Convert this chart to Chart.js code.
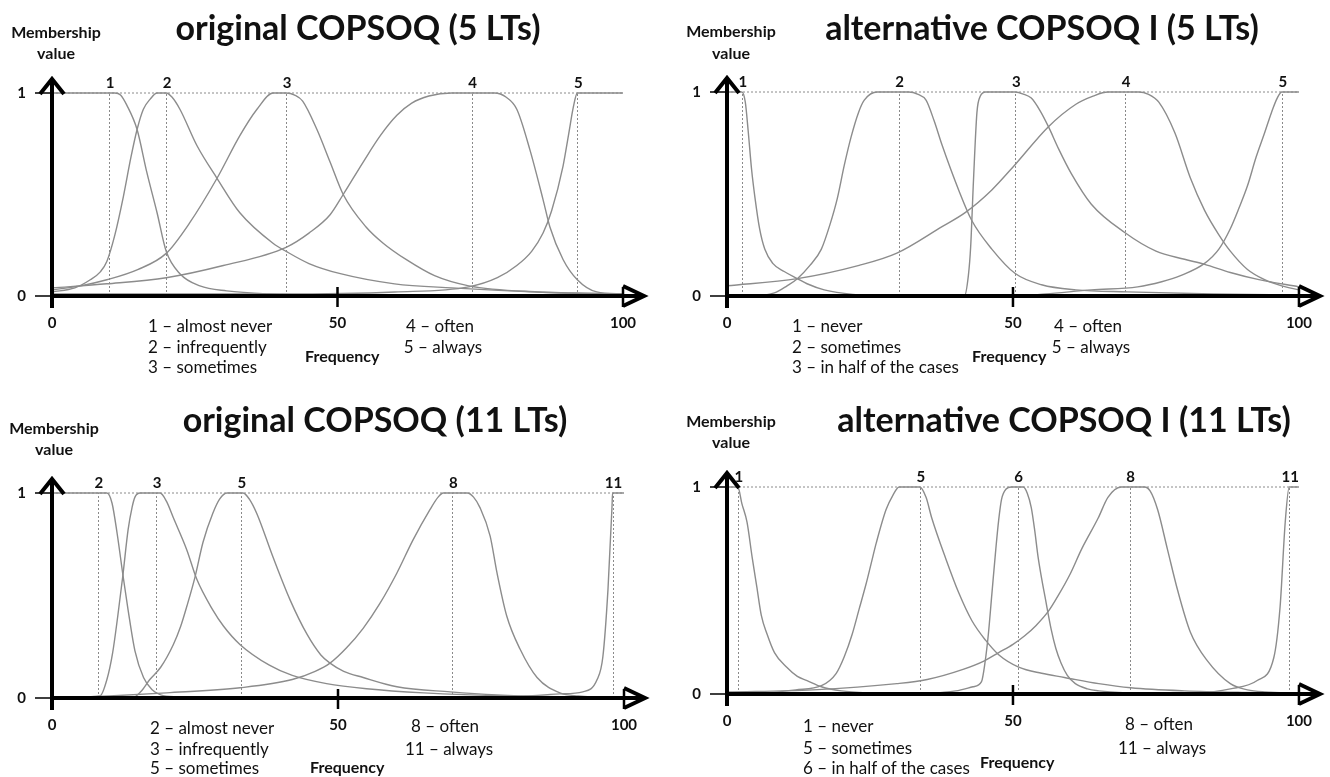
<!DOCTYPE html>
<html>
<head>
<meta charset="utf-8">
<script src="https://cdn.jsdelivr.net/npm/chart.js@4.4.1/dist/chart.umd.min.js"></script>
<style>
  body { margin: 0; background: #fff; font-family: Lato, "Open Sans", sans-serif; color: #111; }
  #page { position: relative; width: 1330px; height: 777px; overflow: hidden; }
  canvas { position: absolute; }
  .t { position: absolute; white-space: nowrap; line-height: 1; transform: translate(-50%, -50%); }
  .l { position: absolute; white-space: nowrap; line-height: 1; transform: translate(0, -50%); }
  .titulo { font-size: 34px; font-weight: 700; }
  .eixo { font-size: 16px; font-weight: 700; }
  .leg { font-size: 17px; }
</style>
</head>
<body>
<div id="page">
  <canvas id="graficoOrig5" width="665" height="388" style="left:0;top:0"></canvas>
  <canvas id="graficoAlt5" width="665" height="388" style="left:665px;top:0"></canvas>
  <canvas id="graficoOrig11" width="665" height="388" style="left:0;top:388px"></canvas>
  <canvas id="graficoAlt11" width="665" height="388" style="left:665px;top:388px"></canvas>

  <!-- original COPSOQ (5 LTs) -->
  <div class="t titulo" style="left:358px;top:27px">original COPSOQ (5 LTs)</div>
  <div class="t eixo" style="left:56px;top:32px">Membership</div>
  <div class="t eixo" style="left:56px;top:53px">value</div>
  <div class="l leg" style="left:148px;top:325px">1 – almost never</div>
  <div class="l leg" style="left:148px;top:346px">2 – infrequently</div>
  <div class="l leg" style="left:148px;top:366px">3 – sometimes</div>
  <div class="l eixo" style="left:305px;top:356px">Frequency</div>
  <div class="t leg" style="left:440px;top:325px">4 – often</div>
  <div class="t leg" style="left:443px;top:346px">5 – always</div>

  <!-- alternative COPSOQ I (5 LTs) -->
  <div class="t titulo" style="left:1042px;top:27px">alternative COPSOQ I (5 LTs)</div>
  <div class="t eixo" style="left:731px;top:31px">Membership</div>
  <div class="t eixo" style="left:731px;top:53px">value</div>
  <div class="l leg" style="left:792px;top:325px">1 – never</div>
  <div class="l leg" style="left:792px;top:346px">2 – sometimes</div>
  <div class="l leg" style="left:792px;top:366px">3 – in half of the cases</div>
  <div class="l eixo" style="left:972px;top:356px">Frequency</div>
  <div class="t leg" style="left:1088px;top:325px">4 – often</div>
  <div class="t leg" style="left:1091px;top:346px">5 – always</div>

  <!-- original COPSOQ (11 LTs) -->
  <div class="t titulo" style="left:375px;top:419px">original COPSOQ (11 LTs)</div>
  <div class="t eixo" style="left:54px;top:428px">Membership</div>
  <div class="t eixo" style="left:54px;top:449px">value</div>
  <div class="l leg" style="left:150px;top:727px">2 – almost never</div>
  <div class="l leg" style="left:150px;top:748px">3 – infrequently</div>
  <div class="l leg" style="left:150px;top:767px">5 – sometimes</div>
  <div class="l eixo" style="left:310px;top:767px">Frequency</div>
  <div class="t leg" style="left:445px;top:725px">8 – often</div>
  <div class="t leg" style="left:449px;top:748px">11 – always</div>

  <!-- alternative COPSOQ I (11 LTs) -->
  <div class="t titulo" style="left:1064px;top:419px">alternative COPSOQ I (11 LTs)</div>
  <div class="t eixo" style="left:731px;top:421px">Membership</div>
  <div class="t eixo" style="left:731px;top:442px">value</div>
  <div class="l leg" style="left:803px;top:725px">1 – never</div>
  <div class="l leg" style="left:803px;top:747px">5 – sometimes</div>
  <div class="l leg" style="left:803px;top:767px">6 – in half of the cases</div>
  <div class="l eixo" style="left:980px;top:762px">Frequency</div>
  <div class="t leg" style="left:1159px;top:723px">8 – often</div>
  <div class="t leg" style="left:1162px;top:747px">11 – always</div>
</div>

<script>
// ---- dados: [frequência, pertinência]
const freqTicks = [0, 50, 100];
const memberTicks = [0, 1];

// original COPSOQ (5 LTs)
const orig5Peaks = [10, 20, 41, 73.5, 92];
const orig5PeakLabels = ['1', '2', '3', '4', '5'];
const orig5Lt1 = [[0,1],[11,1],[12,0.99],[13.1,0.94],[14.9,0.82],[16.6,0.61],[18.4,0.41],[20,0.22],[22.4,0.11],[25.9,0.05],[30.6,0.025],[38,0.01],[50,0.004],[100,0]];
const orig5Lt2 = [[0,0.02],[4,0.04],[6.7,0.08],[8.5,0.12],[9.6,0.17],[11,0.3],[12.5,0.49],[13.8,0.68],[14.9,0.82],[16,0.92],[17.2,0.97],[18.4,1],[20,1],[21,0.98],[22.4,0.92],[25.4,0.74],[28.9,0.58],[32.9,0.41],[38.7,0.26],[41,0.22],[45,0.16],[50.5,0.11],[60,0.06],[70,0.04],[85,0.02],[100,0.01]];
const orig5Lt3 = [[0,0.03],[5,0.05],[9.6,0.08],[15,0.13],[20,0.21],[24.1,0.36],[28.9,0.58],[32.9,0.79],[35.9,0.92],[38.7,1],[41,1],[42.5,0.99],[43.9,0.96],[46.4,0.82],[48.7,0.66],[51,0.5],[55,0.34],[58,0.26],[62,0.18],[67,0.1],[73,0.05],[85,0.02],[100,0.01]];
const orig5Lt4 = [[0,0.04],[9.6,0.06],[20,0.09],[30,0.15],[41,0.24],[45,0.31],[48.7,0.4],[51,0.5],[54.5,0.66],[57.5,0.79],[60.4,0.89],[63,0.95],[66,0.985],[70,1],[77.5,1],[79.5,0.98],[81.4,0.92],[83.7,0.72],[86,0.475],[87.2,0.34],[89.5,0.18],[92,0.08],[95.4,0.02],[100,0.01]];
const orig5Lt5 = [[0,0.01],[40,0.01],[60,0.02],[73,0.045],[78,0.09],[81.4,0.15],[84,0.22],[86,0.31],[87.5,0.42],[89.5,0.64],[90.5,0.8],[91.3,0.93],[92,1],[100,1]];

// alternative COPSOQ I (5 LTs)
const alt5Peaks = [2.6, 30, 50.4, 69.6, 97];
const alt5PeakLabels = ['1', '2', '3', '4', '5'];
const alt5Lt1 = [[0,1],[2.6,1],[3.2,0.95],[3.7,0.81],[4.3,0.62],[4.9,0.48],[5.7,0.33],[6.6,0.23],[8,0.16],[10,0.12],[12.3,0.085],[14,0.06],[17,0.03],[22,0.008],[30,0]];
const alt5Lt2 = [[0,0],[4.3,0],[8.3,0.015],[10.5,0.05],[12.3,0.085],[14.5,0.15],[16.5,0.23],[18,0.35],[19.3,0.48],[20.5,0.64],[21.7,0.78],[23,0.9],[24,0.96],[26.3,1],[31.8,1],[33.3,0.99],[34.8,0.96],[36.2,0.86],[37.6,0.74],[40.5,0.52],[42.8,0.37],[46.3,0.23],[50.4,0.11],[55,0.055],[61,0.03],[70,0.02],[85,0.01],[100,0.005]];
const alt5Lt3 = [[0,0],[41.5,0],[42.2,0.1],[42.6,0.24],[43.1,0.57],[43.7,0.9],[44.3,0.98],[45.2,1],[50.4,1],[51.8,0.99],[53.2,0.97],[54.7,0.91],[56.2,0.83],[58,0.72],[60.2,0.6],[63.7,0.45],[69.6,0.31],[75,0.22],[80,0.18],[83.5,0.155],[88,0.115],[93,0.08],[100,0.045]];
const alt5Lt4 = [[0,0.05],[12.3,0.085],[23.1,0.15],[29.7,0.21],[37.6,0.34],[41.7,0.41],[46.3,0.52],[50.4,0.645],[56.2,0.83],[61,0.94],[64,0.98],[66.6,1],[72,1],[73.6,0.99],[75.5,0.95],[78.3,0.8],[81,0.58],[83.5,0.42],[86,0.3],[88,0.22],[91,0.13],[94,0.08],[97,0.05],[100,0.03]];
const alt5Lt5 = [[0,0],[50,0],[55.7,0.01],[63.7,0.03],[71.8,0.045],[76,0.07],[79.3,0.1],[83.5,0.16],[86,0.23],[88,0.33],[89.5,0.43],[91,0.54],[92.5,0.68],[94,0.8],[95.2,0.9],[96.2,0.97],[97,1],[100,1]];

// original COPSOQ (11 LTs)
const orig11Peaks = [8, 18.2, 33, 70, 98];
const orig11PeakLabels = ['2', '3', '5', '8', '11'];
const orig11Lt2 = [[0,1],[9.6,1],[10.5,0.95],[11.4,0.8],[12.4,0.6],[13.3,0.43],[14.5,0.23],[16,0.1],[17.5,0.04],[19,0.015],[22,0.005],[30,0]];
const orig11Lt3 = [[0,0],[8.4,0.01],[9.6,0.09],[10.6,0.22],[11.5,0.4],[12.4,0.6],[13.3,0.82],[14,0.93],[14.5,0.98],[15.4,1],[18.9,1],[20,0.96],[21.2,0.88],[23.6,0.72],[25.3,0.58],[28.1,0.43],[30,0.35],[32.9,0.26],[38,0.16],[42,0.11],[48,0.07],[55,0.045],[65,0.025],[80,0.01],[100,0.005]];
const orig11Lt5 = [[0,0],[14,0],[15.5,0.03],[17.1,0.09],[19,0.15],[21.2,0.26],[22.5,0.35],[23.6,0.45],[25,0.59],[26.4,0.76],[28.1,0.9],[29.3,0.97],[30.6,1],[33.4,1],[34.5,0.97],[35.8,0.9],[38.6,0.69],[41.6,0.48],[44.6,0.31],[47,0.21],[48.6,0.17],[51,0.13],[54.4,0.1],[60.3,0.055],[69.6,0.03],[77.8,0.015],[90,0.005],[100,0]];
const orig11Lt8 = [[0,0],[10,0.01],[20,0.025],[32.9,0.05],[42,0.09],[46,0.13],[48.6,0.17],[51.5,0.245],[54.4,0.34],[57.3,0.46],[60.3,0.61],[63.1,0.77],[66.1,0.92],[67.5,0.98],[68.4,1],[72.6,1],[73.7,0.98],[74.8,0.93],[76.6,0.79],[77.8,0.61],[79.5,0.4],[81.8,0.24],[84.8,0.1],[88.8,0.025],[92,0.01],[100,0]];
const orig11Lt11 = [[0,0],[60,0],[80,0.005],[88.8,0.02],[92.8,0.03],[95.3,0.09],[96.3,0.2],[97.2,0.53],[97.9,0.93],[98,1],[100,1]];

// alternative COPSOQ I (11 LTs)
const alt11Peaks = [1.9, 33.7, 50.8, 70.4, 98.3];
const alt11PeakLabels = ['1', '5', '6', '8', '11'];
const alt11Lt1 = [[0,1],[1.9,1],[2.6,0.92],[3.5,0.83],[4.4,0.66],[5.2,0.52],[6,0.38],[7,0.29],[8.3,0.2],[10.4,0.13],[12.3,0.085],[14,0.065],[16.5,0.035],[20,0.015],[25,0.005],[35,0]];
const alt11Lt5 = [[0,0],[6.6,0.005],[12,0.02],[16.5,0.04],[19.1,0.1],[20.5,0.18],[21.9,0.29],[23.1,0.41],[24.3,0.53],[25.2,0.63],[26.1,0.73],[27.8,0.89],[29,0.96],[30.1,1],[33.7,1],[34.8,0.95],[35.8,0.85],[38.3,0.65],[40.5,0.49],[42.8,0.355],[45.2,0.26],[47.5,0.19],[51,0.13],[55,0.1],[59,0.08],[65,0.05],[70.6,0.03],[80,0.015],[90,0.008],[100,0.005]];
const alt11Lt6 = [[0,0],[30,0],[40,0.015],[43,0.035],[44.5,0.06],[45.1,0.15],[45.7,0.29],[46.3,0.48],[47,0.7],[47.5,0.84],[48,0.94],[48.8,0.99],[49.7,1],[51.8,1],[52.5,0.97],[53.2,0.9],[53.8,0.79],[54.4,0.66],[55,0.56],[55.6,0.47],[56.7,0.31],[57.5,0.22],[58.4,0.15],[59.5,0.09],[60.9,0.05],[63,0.025],[65,0.015],[70,0.005],[80,0]];
const alt11Lt8 = [[0,0.01],[15,0.02],[29.7,0.05],[35,0.07],[41.4,0.12],[45,0.16],[47.5,0.2],[50,0.24],[52,0.28],[54,0.33],[56.2,0.4],[58,0.48],[60,0.58],[62,0.7],[64.9,0.85],[66.6,0.95],[68.9,1],[73,1],[74,0.98],[75.3,0.89],[77,0.7],[78.8,0.5],[81,0.3],[84,0.16],[88,0.05],[91,0.02],[94,0.01],[100,0.005]];
const alt11Lt11 = [[0,0],[70,0],[82,0.005],[88,0.025],[92.7,0.065],[95.6,0.175],[96.7,0.42],[97.6,0.83],[98.3,1],[100,1]];

// ---- fonte padrão
Chart.defaults.font.family = 'Lato, "Open Sans", sans-serif';
Chart.defaults.color = '#111';

// ---- plugin: linhas pontilhadas, eixos com setas e rótulos dos picos
const eixosSetas = {
    id: 'eixosSetas',
    beforeDatasetsDraw(chart, args, opts) {
        const { ctx, scales: { x, y } } = chart;
        const y0 = y.getPixelForValue(0);
        const y1 = y.getPixelForValue(1);
        ctx.save();
        ctx.strokeStyle = '#8a8a8a';
        ctx.lineWidth = 1;
        ctx.setLineDash([2, 2]);
        ctx.beginPath();
        ctx.moveTo(x.getPixelForValue(0), y1);
        ctx.lineTo(x.getPixelForValue(100), y1);
        opts.peaks.forEach(p => {
            const px = Math.round(x.getPixelForValue(p)) + 0.5;
            ctx.moveTo(px, y0);
            ctx.lineTo(px, y1);
        });
        ctx.stroke();
        ctx.restore();
    },
    afterDatasetsDraw(chart, args, opts) {
        const { ctx, scales: { x, y } } = chart;
        const x0 = x.getPixelForValue(0);
        const x100 = x.getPixelForValue(100);
        const y0 = y.getPixelForValue(0);
        const y1 = y.getPixelForValue(1);
        ctx.save();
        ctx.strokeStyle = '#000';

        // marcas do eixo y (0 e 1)
        ctx.lineWidth = 1.5;
        ctx.beginPath();
        memberTicks.forEach(v => {
            const py = y.getPixelForValue(v);
            ctx.moveTo(x0 - 17, py);
            ctx.lineTo(x0, py);
        });
        ctx.stroke();

        // eixos
        ctx.lineWidth = 4;
        ctx.beginPath();
        ctx.moveTo(x0, y0 + 12);
        ctx.lineTo(x0, y1 - 14);
        ctx.moveTo(x0, y0);
        ctx.lineTo(x100 + 20, y0);
        ctx.stroke();

        // marcas do eixo x (50 e 100)
        ctx.lineWidth = 2.5;
        ctx.beginPath();
        freqTicks.filter(v => v > 0).forEach(v => {
            const px = x.getPixelForValue(v);
            ctx.moveTo(px, y0 - 9);
            ctx.lineTo(px, y0 + 11);
        });
        ctx.stroke();

        // setas
        ctx.lineWidth = 4;
        ctx.lineJoin = 'miter';
        ctx.beginPath();
        ctx.moveTo(x0 - 12, y1 + 1);
        ctx.lineTo(x0, y1 - 14);
        ctx.lineTo(x0 + 12, y1 + 1);
        ctx.moveTo(x100, y0 - 10);
        ctx.lineTo(x100 + 21, y0);
        ctx.lineTo(x100, y0 + 10);
        ctx.stroke();

        // números dos termos linguísticos
        ctx.fillStyle = '#111';
        ctx.font = 'bold 15px Lato, "Open Sans", sans-serif';
        ctx.textAlign = 'center';
        opts.peaks.forEach((p, i) => {
            ctx.fillText(opts.labels[i], x.getPixelForValue(p) + 1, y1 - 5);
        });
        ctx.restore();
    }
};

// ---- monta um gráfico
function criarGrafico(id, area, curvas, peaks, labels) {
    const canvas = document.getElementById(id);
    return new Chart(canvas, {
        type: 'line',
        data: {
            datasets: curvas.map(c => ({
                data: c.map(p => ({ x: p[0], y: p[1] })),
                borderColor: '#8c8c8c',
                borderWidth: 1.4,
                pointRadius: 0,
                cubicInterpolationMode: 'monotone',
                fill: false,
                clip: false
            }))
        },
        options: {
            responsive: false,
            animation: false,
            events: [],
            layout: {
                padding: { top: area.top, right: canvas.width - area.right, left: 0, bottom: 0 }
            },
            plugins: {
                legend: { display: false },
                tooltip: { enabled: false },
                eixosSetas: { peaks: peaks, labels: labels }
            },
            scales: {
                x: {
                    type: 'linear',
                    min: 0,
                    max: 100,
                    grid: { display: false, drawTicks: false },
                    border: { display: false },
                    afterBuildTicks: s => { s.ticks = freqTicks.map(v => ({ value: v })); },
                    afterFit: s => { s.height = canvas.height - area.bottom; },
                    ticks: {
                        autoSkip: false,
                        maxRotation: 0,
                        padding: 18,
                        color: '#111',
                        font: { size: 15, weight: 'bold' }
                    }
                },
                y: {
                    min: 0,
                    max: 1,
                    grid: { display: false, drawTicks: false },
                    border: { display: false },
                    afterBuildTicks: s => { s.ticks = memberTicks.map(v => ({ value: v })); },
                    afterFit: s => { s.width = area.left; },
                    ticks: {
                        padding: 26,
                        color: '#111',
                        font: { size: 15, weight: 'bold' }
                    }
                }
            }
        },
        plugins: [eixosSetas]
    });
}

criarGrafico('graficoOrig5', { left: 52, right: 623, top: 93, bottom: 296 },
    [orig5Lt1, orig5Lt2, orig5Lt3, orig5Lt4, orig5Lt5], orig5Peaks, orig5PeakLabels);
criarGrafico('graficoAlt5', { left: 62, right: 637, top: 92, bottom: 296 },
    [alt5Lt1, alt5Lt2, alt5Lt3, alt5Lt4, alt5Lt5], alt5Peaks, alt5PeakLabels);
criarGrafico('graficoOrig11', { left: 52, right: 624, top: 105, bottom: 310 },
    [orig11Lt2, orig11Lt3, orig11Lt5, orig11Lt8, orig11Lt11], orig11Peaks, orig11PeakLabels);
criarGrafico('graficoAlt11', { left: 62, right: 637, top: 99, bottom: 306 },
    [alt11Lt1, alt11Lt5, alt11Lt6, alt11Lt8, alt11Lt11], alt11Peaks, alt11PeakLabels);
</script>
</body>
</html>
